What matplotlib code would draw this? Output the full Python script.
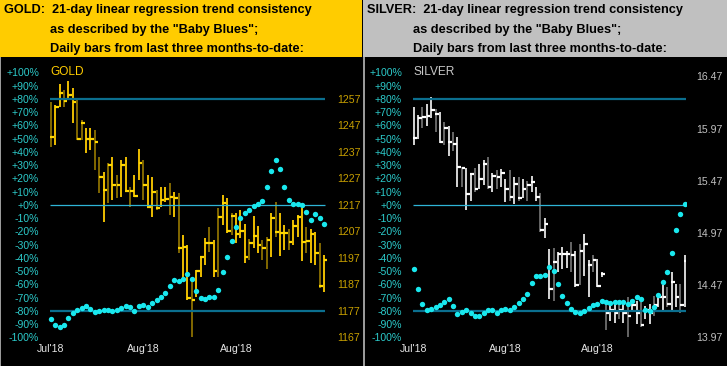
import numpy as np
import matplotlib.pyplot as plt
from matplotlib.patches import Rectangle

# daily bars (price units)
gold_high = [1256.0, 1254.7, 1262.7, 1260.4, 1263.8, 1261.2, 1257.4, 1249.1, 1246.1, 1246.1,
             1245.3, 1235.2, 1229.6, 1232.9, 1235.1, 1228.3, 1234.0, 1235.1, 1223.8, 1228.3,
             1238.1, 1234.0, 1228.3, 1227.6, 1222.7, 1223.8, 1223.8, 1225.3, 1222.0, 1221.4,
             1205.7, 1201.9, 1188.7, 1192.5, 1197.5, 1204.4, 1208.7, 1203.8, 1215.9, 1220.8,
             1219.6, 1214.0, 1214.0, 1215.1, 1209.8, 1204.2, 1212.8, 1209.1, 1203.8, 1204.9,
             1214.1, 1218.2, 1213.9, 1209.5, 1207.9, 1211.3, 1213.2, 1215.8, 1208.8, 1207.9,
             1206.9, 1202.8, 1198.1]
gold_low = [1239.0, 1239.6, 1254.1, 1254.1, 1256.6, 1247.9, 1241.5, 1241.5, 1236.6, 1237.8,
            1230.2, 1221.4, 1210.7, 1217.8, 1218.9, 1219.6, 1220.0, 1221.9, 1216.2, 1220.0,
            1226.4, 1218.9, 1216.2, 1212.5, 1215.1, 1216.2, 1218.1, 1213.2, 1212.6, 1198.9,
            1189.3, 1181.1, 1167.1, 1182.4, 1189.7, 1194.4, 1199.4, 1189.9, 1189.8, 1209.5,
            1206.4, 1205.7, 1202.7, 1204.5, 1195.1, 1196.2, 1200.8, 1198.9, 1196.2, 1192.8,
            1197.5, 1205.0, 1197.8, 1200.0, 1200.0, 1201.9, 1205.0, 1196.0, 1198.8, 1195.1,
            1194.4, 1185.6, 1184.3]
gold_close = [1242.8, 1254.1, 1259.2, 1256.4, 1258.5, 1256.0, 1241.9, 1247.9, 1241.9, 1241.9,
              1240.9, 1227.5, 1222.7, 1232.1, 1224.5, 1224.5, 1232.1, 1222.3, 1222.3, 1220.4,
              1233.0, 1224.5, 1216.4, 1222.0, 1215.9, 1218.9, 1219.3, 1220.1, 1219.8, 1200.8,
              1201.0, 1182.0, 1181.1, 1192.2, 1197.5, 1202.8, 1202.8, 1192.1, 1212.5, 1217.8,
              1207.2, 1213.0, 1206.1, 1207.2, 1197.4, 1202.7, 1205.3, 1201.9, 1200.9, 1203.8,
              1212.0, 1206.7, 1206.4, 1206.4, 1203.1, 1209.1, 1212.4, 1203.1, 1203.4, 1206.1,
              1198.8, 1186.4, 1196.2]
gold_down_days = [0, 3, 6, 7, 10, 11, 13, 15, 18, 21, 24, 27, 29, 32, 36, 38, 41, 45, 48, 49,
                  51, 54, 58, 61]
# "Baby Blues" trend consistency, percent
gold_blues = [-86.3, -90.6, -91.8, -90.3, -85.5, -81.8, -79.2, -78.0, -76.2, -78.7,
              -80.5, -80.0, -79.5, -79.5, -80.0, -79.2, -78.0, -76.2, -77.2, -80.0,
              -76.2, -75.2, -76.7, -74.2, -71.7, -69.2, -66.7, -61.1, -56.6, -57.1,
              -55.8, -52.1, -55.6, -64.7, -70.4, -70.7, -69.7, -69.2, -64.2, -50.3,
              -39.5, -27.4, -16.9, -9.8, -6.3, -3.8, -0.5, 0.8, 3.3, 13.3,
              25.7, 34.0, 26.9, 13.6, 3.5, 0.5, 0.5, 0.0, -5.0, -11.3,
              -6.8, -9.6, -14.3]

silver_high = [16.18, 16.10, 16.18, 16.21, 16.27, 16.16, 16.13, 16.03, 16.00, 15.94,
               15.89, 15.60, 15.59, 15.55, 15.59, 15.63, 15.67, 15.70, 15.55, 15.57,
               15.58, 15.49, 15.57, 15.51, 15.51, 15.49, 15.47, 15.52, 15.41, 15.35,
               15.11, 14.82, 14.83, 14.79, 14.84, 14.80, 14.88, 14.80, 14.87, 14.96,
               14.71, 14.76, 14.72, 14.60, 14.32, 14.28, 14.32, 14.30, 14.32, 14.36,
               14.32, 14.32, 14.31, 14.27, 14.29, 14.37, 14.39, 14.47, 14.45, 14.60,
               14.48, 14.48, 14.76]
silver_low = [15.81, 15.87, 15.98, 16.00, 16.07, 15.94, 15.83, 15.81, 15.71, 15.76,
              15.41, 15.41, 15.19, 15.28, 15.36, 15.39, 15.43, 15.39, 15.36, 15.39,
              15.41, 15.27, 15.28, 15.25, 15.28, 15.31, 15.28, 15.36, 15.28, 14.98,
              14.92, 14.34, 14.32, 14.60, 14.63, 14.64, 14.60, 14.45, 14.47, 14.56,
              14.36, 14.60, 14.45, 14.55, 14.04, 14.13, 14.11, 14.15, 14.11, 13.97,
              14.21, 14.10, 14.07, 14.15, 14.10, 14.18, 14.26, 14.21, 14.26, 14.23,
              14.26, 14.20, 14.26]
silver_close = [15.88, 16.07, 16.08, 16.09, 16.15, 16.11, 15.84, 15.98, 15.84, 15.82,
                15.60, 15.59, 15.34, 15.54, 15.39, 15.49, 15.63, 15.41, 15.52, 15.51,
                15.55, 15.39, 15.32, 15.44, 15.31, 15.39, 15.43, 15.46, 15.32, 15.00,
                15.06, 14.43, 14.69, 14.77, 14.77, 14.77, 14.76, 14.47, 14.80, 14.87,
                14.66, 14.71, 14.46, 14.58, 14.20, 14.23, 14.20, 14.23, 14.20, 14.18,
                14.28, 14.20, 14.09, 14.23, 14.20, 14.28, 14.36, 14.36, 14.29, 14.50,
                14.36, 14.28, 14.70]
silver_down_days = [2, 5, 7, 9, 11, 14, 17, 19, 22, 24, 26, 29, 32, 36, 38, 41, 44, 47, 49,
                    52, 55, 58, 61]
silver_blues = [-48.1, -63.2, -75.0, -79.2, -78.7, -77.2, -75.5, -73.0, -70.9, -76.2,
                -82.3, -80.5, -79.5, -81.3, -83.5, -83.5, -81.3, -79.5, -79.5, -81.8,
                -79.0, -78.5, -79.5, -77.0, -73.7, -70.9, -66.9, -58.6, -53.3, -53.8,
                -52.8, -47.0, -49.8, -59.9, -68.7, -73.7, -78.5, -80.8, -81.8, -80.0,
                -78.0, -75.5, -75.0, -72.5, -73.5, -73.7, -73.5, -73.0, -73.2, -74.7,
                -72.5, -69.2, -70.9, -79.5, -80.0, -76.7, -67.9, -57.9, -50.3, -36.5,
                -18.6, -6.8, 0.8]

month_ticks = [0, 21, 42]
month_labels = ["Jul'18", "Aug'18", "Aug'18"]
pct_ticks = list(range(-100, 101, 10))
gold_price_ticks = [1167, 1177, 1187, 1197, 1207, 1217, 1227, 1237, 1247, 1257]
silver_price_ticks = [13.97, 14.47, 14.97, 15.47, 15.97, 16.47]

W, H = 727, 366
TOP, BOT = 58, 342
PCT_LO, PCT_HI = -103.4, 110.9

plt.rcParams['font.family'] = ['Liberation Sans', 'DejaVu Sans']
fig = plt.figure(figsize=(W / 100, H / 100), dpi=100, facecolor='black')


def frac(l, t, r, b):
    return [l / W, 1 - b / H, (r - l) / W, (b - t) / H]


def draw_panel(x0, x1, hdr_color, metal, name_color, ax_l, ax_r, first_px, step_px,
               high, low, close, down_days, blues, pct_to_price, price_ticks, price_fmt,
               price_color, bar_up, bar_dn, tick_color, indent):
    # header block
    fig.add_artist(Rectangle((x0 / W, 1 - 57 / H), (x1 - x0) / W, 57 / H,
                             transform=fig.transFigure, facecolor=hdr_color,
                             edgecolor='none'))
    fig.add_artist(Rectangle((x0 / W, 0), 1.5 / W, 1 - 57 / H, transform=fig.transFigure,
                             facecolor='#9a9a9a', edgecolor='none'))
    hdr = dict(color='black', fontsize=9.2, fontweight='bold', va='center')
    fig.text((x0 + 4) / W, 1 - 10 / H,
             metal.upper() + ":  21-day linear regression trend consistency", **hdr)
    fig.text((x0 + indent) / W, 1 - 30 / H, 'as described by the "Baby Blues";', **hdr)
    fig.text((x0 + indent) / W, 1 - 49 / H, "Daily bars from last three months-to-date:", **hdr)

    ax = fig.add_axes(frac(ax_l, TOP, ax_r, BOT))
    ax.set_xlim((ax_l - first_px) / step_px, (ax_r - first_px) / step_px)
    ax.set_ylim(PCT_LO, PCT_HI)
    ax2 = ax.twinx()
    ax2.set_ylim(pct_to_price(PCT_LO), pct_to_price(PCT_HI))
    ax.set_zorder(ax2.get_zorder() + 1)
    ax.patch.set_visible(False)
    ax2.patch.set_facecolor('black')

    x = np.arange(len(close))
    cols = [bar_dn if i in down_days else bar_up for i in x]
    ax2.vlines(x, low, high, colors=cols, lw=1.3)
    ax2.hlines(close, x - 0.05, x + 0.8, colors=tick_color, lw=1.6)

    ax.hlines([80, -80], -0.2, 62.2, colors='#0b6f8f', lw=1.6)
    ax.hlines(0, -0.2, 62.2, colors='#2fb4d6', lw=0.9)
    ax.scatter(x, blues, s=15, color='#19e8ee', linewidths=0, zorder=5)

    ax.text(0, 100, metal, color=name_color, fontsize=8.6, va='center', ha='left')

    ax.set_yticks(pct_ticks)
    ax.set_yticklabels([f"{v:+d}%" for v in pct_ticks])
    ax.tick_params(axis='y', length=0, pad=6.5, labelcolor='#2ccaca', labelsize=7.6)
    ax.set_xticks(month_ticks)
    ax.set_xticklabels(month_labels)
    ax.tick_params(axis='x', length=0, pad=1.5, labelcolor='#e6e6e6', labelsize=7.6)

    ax2.set_yticks(price_ticks)
    ax2.set_yticklabels([price_fmt.format(v) for v in price_ticks])
    ax2.tick_params(axis='y', length=0, pad=7.2, labelcolor=price_color, labelsize=7.6)

    for a in (ax, ax2):
        for s in a.spines.values():
            s.set_visible(False)


draw_panel(0, 362, '#ffcc00', 'GOLD', '#ffcc00', 48, 327, 50.7, 4.41,
           gold_high, gold_low, gold_close, gold_down_days, gold_blues,
           lambda p: 1217 + 0.5 * p, gold_price_ticks, "{:.0f}", '#c8a000',
           '#ffcc00', '#8c7000', '#ffd700', 50)

draw_panel(363, 727, '#c0c0c0', 'SILVER', '#c8c8c8', 411, 686, 413.7, 4.37,
           silver_high, silver_low, silver_close, silver_down_days, silver_blues,
           lambda p: 13.97 + (p + 100) * 0.012691, silver_price_ticks, "{:.2f}", '#c0c0c0',
           '#e6e6e6', '#6e6e6e', '#ffffff', 50)

fig.savefig('out.png', dpi=100, facecolor='black')
